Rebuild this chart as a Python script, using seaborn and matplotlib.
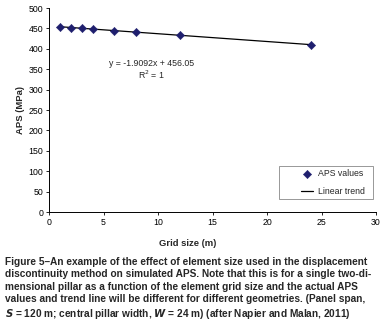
import matplotlib
matplotlib.use("Agg")
import matplotlib.pyplot as plt
from matplotlib.patches import Rectangle
import seaborn as sns
import numpy as np
import pandas as pd

grid_size = [1, 2, 3, 4, 6, 8, 12, 24]
aps_values = [454.1, 452.2, 450.3, 448.4, 444.6, 440.8, 433.1, 410.2]
slope = -1.9092
intercept = 456.05
x_ticks = [0, 5, 10, 15, 20, 25, 30]
y_ticks = [0, 50, 100, 150, 200, 250, 300, 350, 400, 450, 500]

sns.set_theme(style="white")
plt.rcParams['font.family'] = ['Liberation Sans', 'DejaVu Sans']

df = pd.DataFrame({"Grid size (m)": grid_size, "APS (MPa)": aps_values})
trend_x = [min(grid_size), max(grid_size)]
trend_df = pd.DataFrame({"x": trend_x, "y": [slope * v + intercept for v in trend_x]})

fig = plt.figure(figsize=(3.9, 3.31), dpi=100)
ax = fig.add_axes([49/390, 1 - 212/331, (376-49)/390, (212-8)/331])

sns.lineplot(data=trend_df, x="x", y="y", ax=ax, color="black", linewidth=0.9, label="Linear trend")
sns.scatterplot(data=df, x="Grid size (m)", y="APS (MPa)", ax=ax, marker="D", s=18,
                color="#1f1f6e", edgecolor="#1f1f6e", label="APS values", zorder=3)

ax.set_xlim(0, 30)
ax.set_ylim(0, 500)
ax.set_xticks(x_ticks)
ax.set_yticks(y_ticks)
ax.tick_params(axis="both", labelsize=6.3, length=2.5, width=0.6, direction="out", pad=1.5, colors="black")
ax.tick_params(axis="both", bottom=True, left=True)
for s in ["top", "right"]:
    ax.spines[s].set_visible(False)
for s in ["left", "bottom"]:
    ax.spines[s].set_color("black")
    ax.spines[s].set_linewidth(0.7)

ax.set_xlabel("")
ax.set_ylabel("APS (MPa)", fontsize=6.8, fontweight="bold", labelpad=3)
fig.text(188/390, 1 - 244/331, "Grid size (m)", fontsize=6.8, fontweight="bold", ha="center", va="center")

ax.text(152/390, 1 - 63/331, "y = -1.9092x + 456.05", transform=fig.transFigure, fontsize=6.3, ha="center", va="center")
ax.text(152/390, 1 - 75/331, "R$^2$ = 1", transform=fig.transFigure, fontsize=6.3, ha="center", va="center")

# legend frame drawn separately to reproduce the wide left padding
ax.add_patch(Rectangle((0.703, 0.064), 0.288, 0.161, transform=ax.transAxes,
                       facecolor="white", edgecolor="#888888", linewidth=0.6, zorder=4))

handles, labels = ax.get_legend_handles_labels()
order = [labels.index("APS values"), labels.index("Linear trend")]
leg = ax.legend([handles[i] for i in order], [labels[i] for i in order],
                loc="lower right", bbox_to_anchor=(0.966, 0.08), borderaxespad=0,
                fontsize=6.3, frameon=False,
                handlelength=1.3, borderpad=0, labelspacing=1.0, handletextpad=0.6)
leg.set_zorder(5)

caption = ("Figure 5\u2013An example of the effect of element size used in the displacement\n"
           "discontinuity method on simulated APS. Note that this is for a single two-di-\n"
           "mensional pillar as a function of the element grid size and the actual APS\n"
           "values and trend line will be different for different geometries. (Panel span,\n"
           "$\\mathbfit{S}$ = 120 m; central pillar width, $\\mathbfit{W}$ = 24 m) (after Napier and Malan, 2011)")
fig.text(5/390, 1 - 257/331, caption, fontsize=7.3, fontweight="bold", ha="left", va="top",
         linespacing=1.3)

fig.savefig("out.png", dpi=100)
